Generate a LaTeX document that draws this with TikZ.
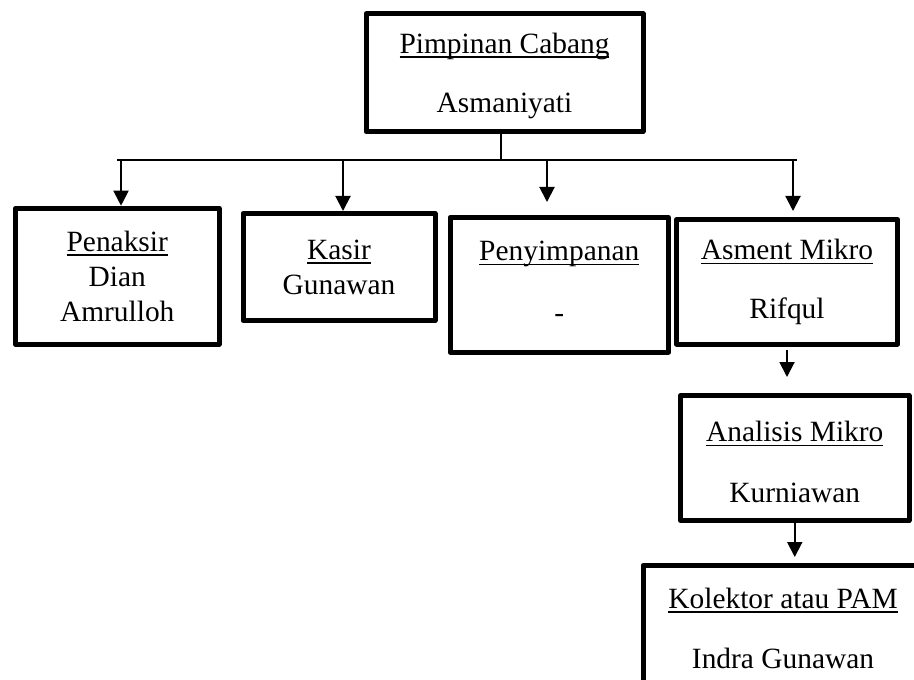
\documentclass[tikz,border=0pt]{standalone}
\usepackage{fontspec}
\setmainfont{Liberation Serif}
\usetikzlibrary{arrows.meta}

% garis bawah untuk nama jabatan
\newcommand{\jabatan}[1]{\setbox0\hbox{#1}\rlap{\rule[-2.4pt]{\wd0}{0.8pt}}\box0}

\tikzset{
	kotak/.style={draw, line width=2.5pt, line join=round, align=center, inner sep=2pt,
		font=\fontsize{14.7}{17.5}\selectfont},
	garis/.style={line width=1pt},
	panah/.style={garis, -{Triangle[length=7.5pt,width=7.5pt]}}
}

\begin{document}
\begin{tikzpicture}[x=0.5pt,y=-0.5pt]
				% Frame
				\clip (0,0) rectangle (914,679);
			
				% Boxes
				\node[kotak, minimum width=138.5pt, minimum height=58.75pt] (pimpinan) at (504.5,72.75)
					{\rule{0pt}{13pt}\jabatan{Pimpinan Cabang}\\[12pt] Asmaniyati};
				\node[kotak, minimum width=101.75pt, minimum height=68pt] (penaksir) at (117.25,276.2)
					{\jabatan{Penaksir}\\ Dian\\ Amrulloh};
				\node[kotak, minimum width=96pt, minimum height=53.5pt] (kasir) at (339,267)
					{\jabatan{Kasir}\\ Gunawan};
				\node[kotak, minimum width=109.25pt, minimum height=67.25pt] (penyimpanan) at (559.25,284.75)
					{\jabatan{Penyimpanan}\\[13.5pt] -\vphantom{g}};
				\node[kotak, minimum width=110.5pt, minimum height=62.25pt] (asment) at (787,281.75)
					{\jabatan{Asment Mikro}\\[12pt] Rifqul};
				\node[kotak, minimum width=114.25pt, minimum height=62.5pt] (analisis) at (794.75,458)
					{\rule{0pt}{14pt}\jabatan{Analisis Mikro}\\[13pt] Kurniawan};
				\node[kotak, minimum width=140pt, minimum height=62.5pt] (kolektor) at (783,628)
					{\jabatan{Kolektor atau PAM}\\[12.5pt] Indra Gunawan};
			
				% Bus line
				\coordinate (stem) at (500.5,160.5);
				\coordinate (busL) at (117,160.5);
				\coordinate (busR) at (797,160.5);
				\draw[garis] (stem |- pimpinan.south) -- (stem);
				\draw[garis] (busL) -- (busR);
			
				% Arrows to the staff
				\coordinate (c1) at (121,160.5);
				\coordinate (c2) at (343,160.5);
				\coordinate (c3) at (547,160.5);
				\coordinate (c4) at (793,160.5);
				\draw[panah] (c1) -- (c1 |- penaksir.north);
				\draw[panah] (c2) -- (c2 |- kasir.north);
				\draw[panah, shorten >=6.5pt] (c3) -- (c3 |- penyimpanan.north);
				\draw[panah, shorten >=3pt] (c4) -- (c4 |- asment.north);
			
				% Arrows down the line
				\draw[panah, shorten <=1.5pt, shorten >=8pt] (asment.south) -- (asment.south |- analisis.north);
				\draw[panah, shorten >=3pt] (analisis.south) -- (analisis.south |- kolektor.north);
			\end{tikzpicture}
\end{document}
